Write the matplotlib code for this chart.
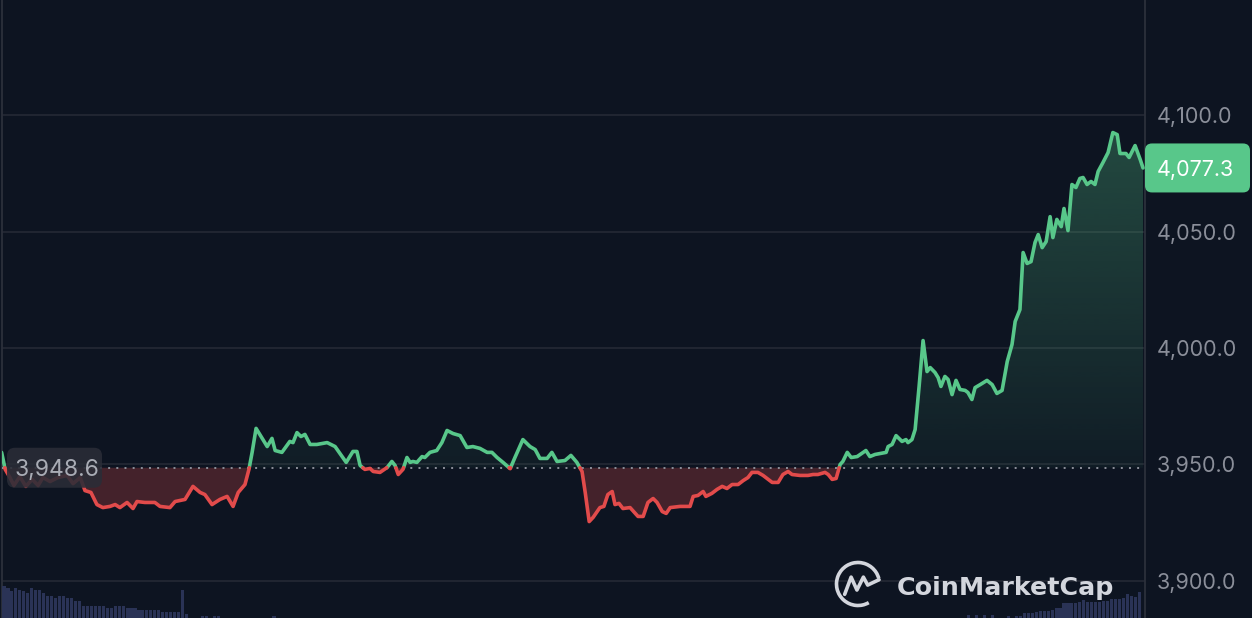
import numpy as np
import matplotlib
matplotlib.use("Agg")
import matplotlib.pyplot as plt
from matplotlib.patches import FancyBboxPatch, Arc
from matplotlib.lines import Line2D
from matplotlib.path import Path
from matplotlib.colors import to_rgb

# ---------------- data ----------------
t_step = [0.4, 1.3, 2.5, 3.5, 5.0, 6.5, 8.1, 9.6, 10.8, 12.6,
          14.6, 16.9, 18.4, 20.2, 21.4, 22.9, 24.4, 25.9, 27.7, 29.0,
          30.2, 32.0, 33.5, 34.5, 36.5, 39.0, 40.3, 42.8, 44.1, 46.6,
          48.6, 50.4, 51.6, 53.4, 55.4, 57.2, 58.7, 60.0, 61.7, 62.7,
          63.5, 64.5, 67.3, 68.5, 69.3, 71.0, 73.0, 73.8, 74.8, 75.8,
          76.8, 78.1, 79.8, 82.4, 84.4, 87.2, 88.9, 89.9, 90.7, 91.9,
          93.2, 94.0, 95.7, 97.5, 98.7, 99.5, 100.3, 101.5, 102.5, 103.3,
          104.0, 105.0, 106.3, 107.0, 108.3, 110.0, 111.3, 112.6, 114.1, 115.9,
          117.6, 119.1, 120.9, 122.7, 123.9, 125.2, 126.7, 128.5, 129.7, 131.7,
          133.5, 134.8, 136.0, 137.8, 139.0, 140.3, 142.3, 143.8, 145.3, 146.6,
          147.4, 148.4, 149.4, 151.1, 152.1, 153.1, 154.2, 154.9, 155.9, 156.9,
          158.7, 160.0, 160.7, 162.0, 163.2, 164.5, 165.5, 166.8, 167.8, 168.8,
          171.3, 173.8, 174.6, 175.8, 177.1, 177.8, 179.3, 180.6, 181.9, 183.1,
          184.4, 185.9, 187.2, 188.4, 189.4, 190.9, 192.2, 194.5, 196.0, 197.2,
          198.5, 199.5, 201.5, 203.5, 204.8, 206.0, 207.8, 208.6, 209.6, 210.6,
          211.6, 212.3, 213.4, 214.4, 215.9, 217.4, 218.1, 219.1, 220.4, 221.7,
          223.2, 223.7, 224.7, 225.7, 227.2, 228.2, 228.7, 229.7, 230.5, 231.5,
          232.5, 233.5, 234.3, 235.5, 236.3, 237.0, 238.0, 238.8, 239.8, 240.8,
          241.8, 243.1, 243.8, 244.8, 245.6, 246.9, 248.6, 249.9, 251.1, 252.4,
          253.7, 254.9, 255.7, 256.9, 257.7, 258.7, 259.7, 260.7, 261.5, 262.5,
          263.5, 264.5, 265.2, 266.2, 267.3, 268.0, 269.0, 270.0, 271.0, 272.0,
          272.8, 273.8, 274.8, 275.8, 276.6, 277.8, 279.1, 280.3, 281.4, 282.1,
          283.6, 284.4, 285.9, 287.2, 287.9]

price = [3955.2, 3947.9, 3944.4, 3941.0, 3944.8, 3940.6, 3943.6, 3941.0, 3944.4, 3942.7,
         3944.4, 3945.3, 3941.8, 3944.4, 3938.8, 3938.0, 3932.8, 3931.5, 3932.0, 3932.8,
         3931.5, 3933.7, 3931.1, 3934.1, 3933.7, 3933.7, 3932.0, 3931.5, 3934.1, 3935.0,
         3940.6, 3938.0, 3937.1, 3932.8, 3935.0, 3936.3, 3932.0, 3938.0, 3941.4, 3947.9,
         3955.2, 3965.5, 3957.7, 3961.2, 3956.0, 3955.2, 3959.9, 3959.4, 3963.7, 3962.0,
         3962.9, 3958.6, 3958.6, 3959.4, 3957.7, 3950.9, 3955.6, 3955.6, 3949.6, 3947.9,
         3948.3, 3947.0, 3946.6, 3948.7, 3951.3, 3949.6, 3945.7, 3947.9, 3953.0, 3950.9,
         3951.3, 3950.9, 3953.4, 3953.0, 3955.2, 3956.0, 3959.4, 3964.6, 3963.3, 3962.4,
         3957.3, 3957.7, 3956.9, 3955.2, 3955.2, 3953.0, 3950.9, 3948.2, 3953.0, 3960.7,
         3957.7, 3956.4, 3952.6, 3952.6, 3955.2, 3951.3, 3951.7, 3953.9, 3950.9, 3947.0,
         3938.0, 3925.5, 3927.3, 3931.5, 3932.0, 3937.1, 3938.4, 3932.8, 3933.3, 3931.1,
         3931.5, 3929.0, 3927.7, 3927.7, 3933.7, 3935.4, 3933.7, 3929.8, 3929.0, 3931.5,
         3932.0, 3932.0, 3936.3, 3936.7, 3938.4, 3936.3, 3937.6, 3939.3, 3940.6, 3939.7,
         3941.4, 3941.4, 3943.1, 3944.4, 3946.6, 3946.6, 3945.3, 3942.3, 3942.3, 3945.7,
         3947.0, 3945.7, 3945.3, 3945.3, 3945.7, 3945.7, 3946.6, 3945.7, 3943.6, 3944.0,
         3950.0, 3951.3, 3955.2, 3953.0, 3953.4, 3955.2, 3956.0, 3953.4, 3954.3, 3954.7,
         3955.2, 3957.7, 3958.6, 3962.4, 3959.9, 3960.7, 3959.4, 3960.7, 3965.0, 3983.5,
         4003.2, 3989.9, 3991.6, 3989.5, 3987.3, 3983.5, 3987.8, 3986.5, 3980.0, 3986.1,
         3982.2, 3981.8, 3980.9, 3977.9, 3983.0, 3984.3, 3986.1, 3984.3, 3980.5, 3981.8,
         3994.2, 4001.5, 4011.4, 4016.5, 4041.0, 4036.3, 4037.1, 4045.3, 4048.7, 4043.1,
         4045.7, 4056.4, 4047.4, 4055.2, 4052.1, 4059.9, 4050.4, 4070.2, 4068.9, 4072.8,
         4073.2, 4070.2, 4071.5, 4070.2, 4075.8, 4079.6, 4083.9, 4092.5, 4091.6, 4083.5,
         4083.5, 4081.8, 4086.9, 4080.9, 4077.3]

baseline = 3948.6
last_price = 4077.3
ytick_vals = [3900, 3950, 4000, 4050, 4100]

n_steps = 288
vol_left = [26, 32, 30, 27, 30, 28, 27, 25, 30, 28, 28, 25, 22, 22, 20, 22, 22, 20, 20, 17,
            17, 12, 12, 12, 12, 12, 12, 10, 10, 12, 12, 12, 10, 10, 10, 8, 8, 8, 8, 8,
            8, 6, 6, 6, 6, 6, 28, 4]
vol_mid_steps = [51, 52, 54, 55, 69]
vol_mid = [2, 2, 2, 2, 2]
vol_right_start = 244
vol_right = [3, 0, 3, 0, 3, 0, 3, 0, 0, 0, 2, 0, 2, 2, 5, 5, 5, 6, 7, 7, 7, 8, 10, 10,
             15, 15, 15, 15, 16, 18, 16, 16, 16, 16, 17, 17, 19, 19, 19, 20, 24, 22, 21, 26]

assert len(t_step) == len(price)

# ---------------- style ----------------
BG = "#0d1421"
GREEN = "#58c78a"
RED = "#e24b4b"
GRID = "#262b37"
TICK = "#8a8e99"
VOL = "#2a3356"

plt.rcParams["font.family"] = ["Inter", "DejaVu Sans"]

W, H, DPI = 1252, 618, 100
fig = plt.figure(figsize=(W / DPI, H / DPI), dpi=DPI, facecolor=BG)

ax_l, ax_r = 2 / W, 1145 / W
ax = fig.add_axes([ax_l, 0, ax_r - ax_l, 1])
ax.set_facecolor(BG)

# volume axes
axv = fig.add_axes([ax_l, 0, ax_r - ax_l, 40 / H], sharex=ax)
axv.patch.set_alpha(0)
vol = np.zeros(n_steps)
vol[:len(vol_left)] = vol_left
vol[vol_mid_steps] = vol_mid
vol[vol_right_start:vol_right_start + len(vol_right)] = vol_right
axv.bar(np.arange(n_steps), vol, width=0.78, color=VOL, linewidth=0)
axv.set_ylim(0, 40)
axv.axis("off")

# ---------------- price line ----------------
t = np.array(t_step, float)
p = np.array(price, float)
tt, pp = [t[0]], [p[0]]
for i in range(1, len(t)):
    a, b = p[i - 1] - baseline, p[i] - baseline
    if a * b < 0:
        f = a / (a - b)
        tt.append(t[i - 1] + f * (t[i] - t[i - 1]))
        pp.append(baseline)
    tt.append(t[i])
    pp.append(p[i])
tt = np.array(tt)
pp = np.array(pp)
up = np.where(pp >= baseline, pp, np.nan)
dn = np.where(pp <= baseline, pp, np.nan)

# green gradient fill
poly = ax.fill_between(tt, pp, baseline, where=pp >= baseline, color="none", linewidth=0)
ny = 256
rgba = np.zeros((ny, 1, 4))
rgba[..., :3] = to_rgb(GREEN)
rgba[:, 0, 3] = 0.05 + 0.25 * np.linspace(0, 1, ny)
im = ax.imshow(rgba, extent=[tt.min(), tt.max(), baseline, p.max()], origin="lower",
               aspect="auto", interpolation="bilinear", zorder=1)
clip = Path.make_compound_path(*poly.get_paths())
im.set_clip_path(clip, transform=ax.transData)

# red fill
ax.fill_between(tt, pp, baseline, where=pp <= baseline, color=RED, alpha=0.26,
                linewidth=0, zorder=1)

ax.plot(tt, up, color=GREEN, lw=2.6, solid_joinstyle="round", solid_capstyle="round", zorder=4)
ax.plot(tt, dn, color=RED, lw=2.6, solid_joinstyle="round", solid_capstyle="round", zorder=4)

ax.axhline(baseline, color="#8c909a", lw=1.4, ls=(0, (1, 3.2)), zorder=3)

# ---------------- axes ----------------
ax.set_xlim(0.5, 288.4)
ax.set_ylim(3884.1, 4149.4)
ax.set_yticks(ytick_vals)
ax.set_yticklabels([f"{v:,.1f}" for v in ytick_vals])
ax.yaxis.tick_right()
ax.tick_params(axis="y", length=0, pad=8.6, labelsize=15.5, labelcolor=TICK)
ax.set_xticks([])
ax.grid(axis="y", color=GRID, lw=1.1)
ax.set_axisbelow(True)
for s in ["top", "bottom"]:
    ax.spines[s].set_visible(False)
ax.spines["right"].set_color("#2c303b")
ax.spines["right"].set_linewidth(1.3)
ax.spines["left"].set_color("#2c303b")
ax.spines["left"].set_linewidth(1.3)

# ---------------- labels ----------------
inch = fig.dpi_scale_trans

y_last = ax.transData.transform((0, last_price))[1]
fig.add_artist(FancyBboxPatch((1145 / DPI, (y_last - 24.5) / DPI), 105 / DPI, 49 / DPI,
                              boxstyle="round,pad=0,rounding_size=0.07",
                              transform=inch, fc=GREEN, ec="none", zorder=5))
fig.text(1157 / DPI, y_last / DPI, f"{last_price:,.1f}", transform=inch, color="white",
         fontsize=15.5, va="center_baseline", ha="left", zorder=6)

y_base = ax.transData.transform((0, baseline))[1]
fig.add_artist(FancyBboxPatch((7 / DPI, (y_base - 20) / DPI), 95 / DPI, 40 / DPI,
                              boxstyle="round,pad=0,rounding_size=0.08",
                              transform=inch, fc="#2a2d37", ec="none", alpha=0.88, zorder=5))
fig.text(15 / DPI, y_base / DPI, f"{baseline:,.1f}", transform=inch, color="#a9acb5",
         fontsize=16.5, va="center_baseline", ha="left", zorder=6)

# ---------------- watermark ----------------
WM = "#d3d6dd"
wm = fig.text(897 / DPI, (H - 595) / DPI, "CoinMarketCap", transform=inch, color=WM,
              fontsize=17.5, fontweight="bold", family="DejaVu Sans", va="baseline", zorder=6)
fig.canvas.draw()
wpx = wm.get_window_extent().width
wm.set_fontsize(17.5 * 217 / wpx)

cx, cy, r = 858 / DPI, (H - 584) / DPI, 21.5 / DPI
fig.add_artist(Arc((cx, cy), 2 * r, 2 * r, theta1=15, theta2=300, transform=inch,
                   color=WM, lw=2.6, zorder=6))
mx = np.array([-0.62, -0.32, -0.05, 0.25, 0.45, 0.98])
my = np.array([-0.48, 0.32, -0.28, 0.32, -0.05, 0.2])
fig.add_artist(Line2D(cx + r * mx, cy + r * my, transform=inch, color=WM, lw=2.6,
                      solid_joinstyle="round", solid_capstyle="round", zorder=6))

fig.savefig("out.png", dpi=DPI, facecolor=BG)
